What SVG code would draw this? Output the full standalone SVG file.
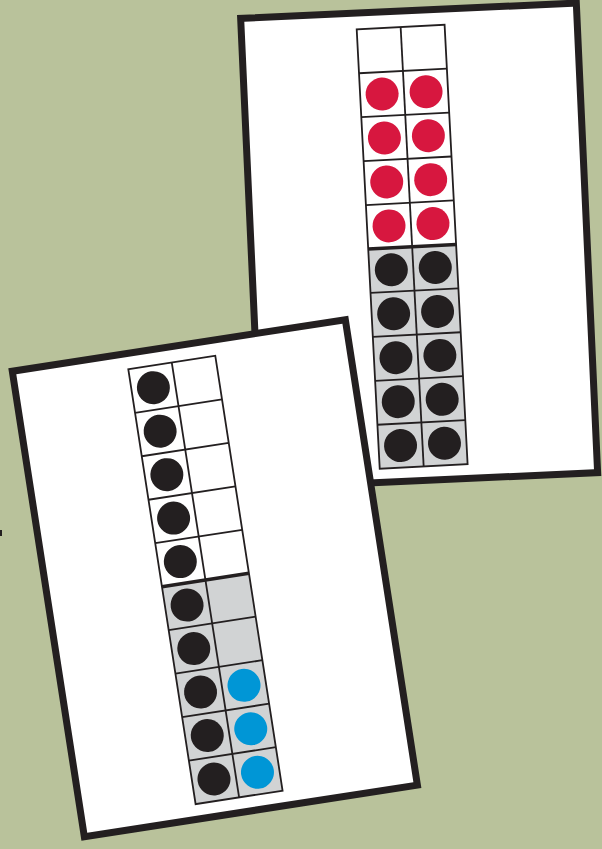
<svg xmlns="http://www.w3.org/2000/svg" width="602" height="849" viewBox="0 0 602 849">
<style>
.card{fill:#ffffff;stroke:#231f20;stroke-width:7;stroke-linejoin:miter}
.ln{stroke:#231f20;stroke-width:1.8;fill:none}
.thick{stroke:#231f20;stroke-width:3.5;fill:none}
.gray{fill:#d1d3d4}
.white{fill:#ffffff}
.blk{fill:#231f20}
.red{fill:#d7173f}
.blue{fill:#0096d6}
</style>
<defs>
<g id="gridlines">
<rect class="ln" x="0" y="0" width="88" height="440"/>
<line class="ln" x1="44" y1="0" x2="44" y2="440"/>
<path class="ln" d="M0 44H88M0 88H88M0 132H88M0 176H88M0 264H88M0 308H88M0 352H88M0 396H88"/>
<line class="thick" x1="0" y1="220" x2="88" y2="220"/>
</g>
</defs>
<rect x="0" y="0" width="602" height="849" fill="#b9c29b"/>
<rect x="0" y="530" width="2" height="6" fill="#231f20"/>
<g id="card1">
<rect class="card" x="3.5" y="3.5" width="336" height="470" transform="translate(237,15) rotate(-2.6)"/>
<g id="grid1" transform="translate(356.7,29.3) rotate(-3)">
<rect class="white" x="0" y="0" width="88" height="220"/>
<rect class="gray" x="0" y="220" width="88" height="220"/>
<circle class="red" cx="22" cy="66" r="16.5"/><circle class="red" cx="66" cy="66" r="16.5"/>
<circle class="red" cx="22" cy="110" r="16.5"/><circle class="red" cx="66" cy="110" r="16.5"/>
<circle class="red" cx="22" cy="154" r="16.5"/><circle class="red" cx="66" cy="154" r="16.5"/>
<circle class="red" cx="22" cy="198" r="16.5"/><circle class="red" cx="66" cy="198" r="16.5"/>
<circle class="blk" cx="22" cy="242" r="16.5"/><circle class="blk" cx="66" cy="242" r="16.5"/>
<circle class="blk" cx="22" cy="286" r="16.5"/><circle class="blk" cx="66" cy="286" r="16.5"/>
<circle class="blk" cx="22" cy="330" r="16.5"/><circle class="blk" cx="66" cy="330" r="16.5"/>
<circle class="blk" cx="22" cy="374" r="16.5"/><circle class="blk" cx="66" cy="374" r="16.5"/>
<circle class="blk" cx="22" cy="418" r="16.5"/><circle class="blk" cx="66" cy="418" r="16.5"/>
<use href="#gridlines"/>
</g>
</g>
<g id="card2">
<rect class="card" x="3.5" y="3.5" width="337" height="471" transform="translate(8.3,368.3) rotate(-8.8)"/>
<g id="grid2" transform="translate(128.3,369.3) rotate(-8.8)">
<rect class="white" x="0" y="0" width="88" height="220"/>
<rect class="gray" x="0" y="220" width="88" height="220"/>
<circle class="blk" cx="22" cy="22" r="16.5"/>
<circle class="blk" cx="22" cy="66" r="16.5"/>
<circle class="blk" cx="22" cy="110" r="16.5"/>
<circle class="blk" cx="22" cy="154" r="16.5"/>
<circle class="blk" cx="22" cy="198" r="16.5"/>
<circle class="blk" cx="22" cy="242" r="16.5"/>
<circle class="blk" cx="22" cy="286" r="16.5"/>
<circle class="blk" cx="22" cy="330" r="16.5"/><circle class="blue" cx="66" cy="330" r="16.5"/>
<circle class="blk" cx="22" cy="374" r="16.5"/><circle class="blue" cx="66" cy="374" r="16.5"/>
<circle class="blk" cx="22" cy="418" r="16.5"/><circle class="blue" cx="66" cy="418" r="16.5"/>
<use href="#gridlines"/>
</g>
</g>
</svg>
